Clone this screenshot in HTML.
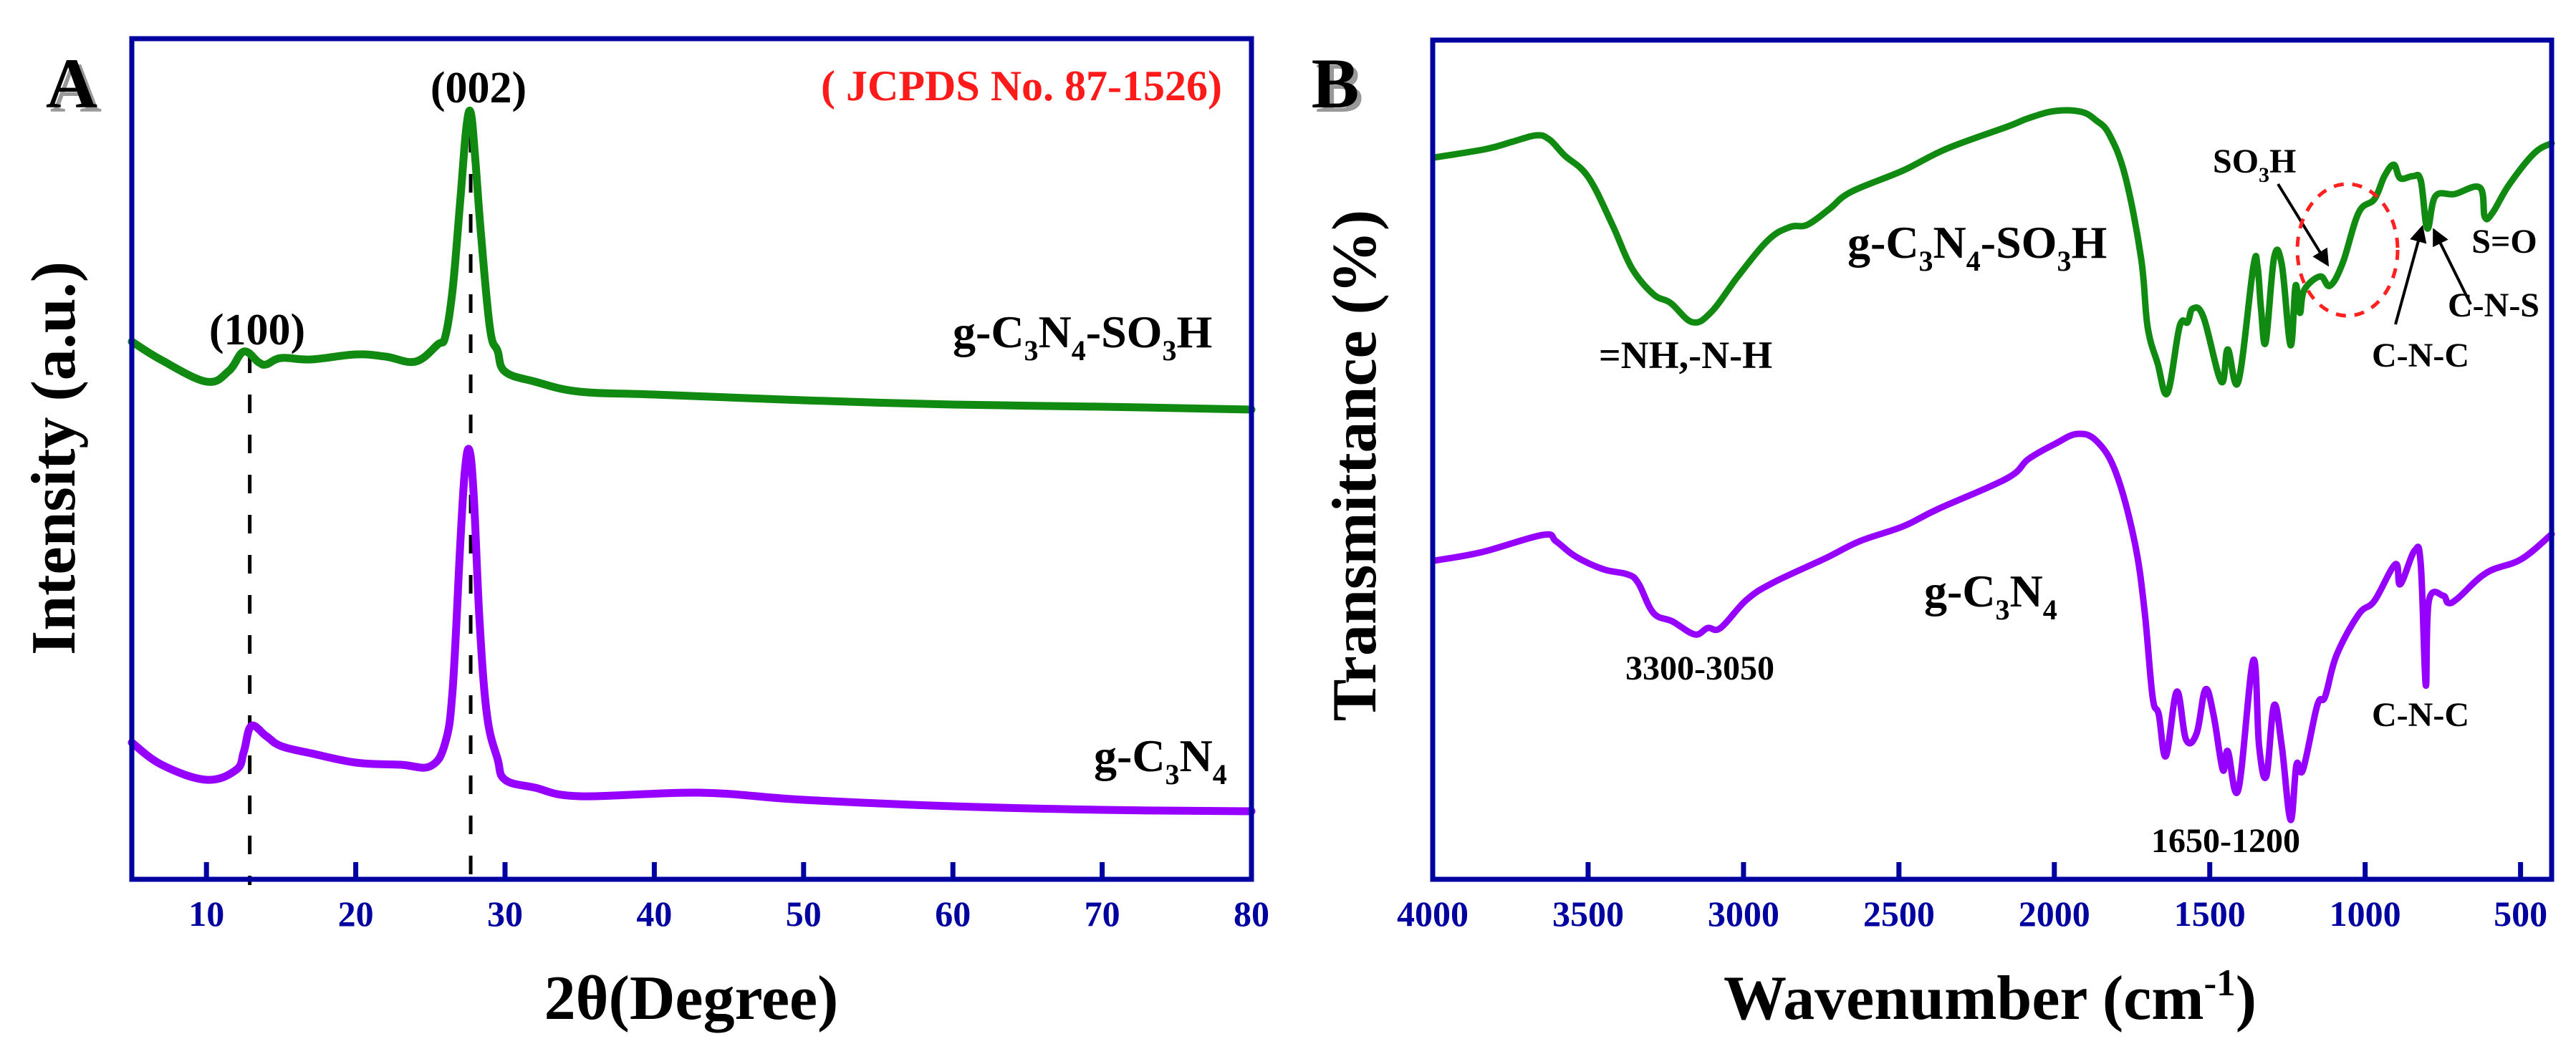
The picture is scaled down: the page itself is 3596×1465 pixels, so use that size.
<!DOCTYPE html>
<html><head><meta charset="utf-8"><title>XRD and FTIR</title>
<style>
html,body{margin:0;padding:0;background:#fff;}
svg{display:block;font-family:"Liberation Serif",serif;}
</style></head>
<body>
<svg id="fig" width="3596" height="1465" viewBox="0 0 3596 1465" xmlns="http://www.w3.org/2000/svg">
  <g id="panelA"></g>
  <g id="panelB"></g>
</svg>
<script>
// ---------- Panel A data (XRD) ----------
const xrdGreenX = [5,7,10,11.5,12.5,13.5,14,15,17,20,22,24,25.5,26,26.5,27,27.4,27.7,28,28.4,29,29.5,30,32,35,40,50,60,70,80];
const xrdGreenI = [751,725,695,710,737,722,719,728,726,733,730,723,747,758,826,948,1048,1071,1008,898,768,738,709,695,681,677,669,663,660,656];
const xrdPurpleX = [5,7,10,12,12.5,13,14,15,17,20,23,25,26,26.5,27,27.3,27.6,27.9,28.3,28.8,29.5,30,32,35,43,50,60,70,80];
const xrdPurpleI = [191,160,139,153,178,214,200,186,176,163,160,158,191,268,468,568,600,538,358,228,168,139,128,116,121,111,102,97,95];
const xrdTicks = [10,20,30,40,50,60,70,80];
const xrdRefLines = [12.9,27.7];

// ---------- Panel B data (FTIR) ----------
const ftirGreenW = [3995,3827,3744,3666,3624,3576,3500,3422,3360,3290,3235,3164,3102,3018,2920,2850,2795,2724,2654,2486,2348,2152,2083,1998,1915,1866,1823,1772,1721,1700,1668,1636,1597,1571,1555,1520,1463,1442,1408,1360,1346,1335,1320,1293,1268,1240,1224,1210,1196,1145,1113,1072,1021,970,938,908,887,846,821,800,774,712,631,615,590,537,456,400];
const ftirGreenT = [1008,1020,1030,1039,1033,1011,981,914,854,817,805,778,793,842,893,911,914,936,960,990,1020,1051,1063,1073,1072,1060,1040,982,868,772,721,679,772,778,797,785,695,740,695,855,855,797,750,868,858,746,829,791,823,842,829,861,931,950,982,998,979,982,976,909,954,957,966,925,931,970,1014,1028];
const ftirPurpleW = [3995,3841,3645,3603,3541,3451,3374,3339,3290,3228,3157,3115,3074,2991,2906,2738,2627,2486,2375,2152,2083,1998,1926,1864,1802,1742,1710,1684,1664,1641,1606,1576,1542,1514,1488,1458,1442,1408,1360,1341,1318,1293,1268,1240,1221,1200,1154,1129,1092,1021,970,903,887,841,821,805,795,749,733,703,610,498,400];
const ftirPurpleT = [445,457,481,472,451,433,426,414,372,360,342,351,351,390,414,448,472,493,517,560,587,608,622,612,568,472,376,255,230,172,262,195,204,265,230,153,179,125,306,185,144,243,185,83,160,153,243,255,313,370,389,440,412,459,440,271,389,396,386,392,428,447,482];
const ftirTicks = [4000,3500,3000,2500,2000,1500,1000,500];

const NS = "http://www.w3.org/2000/svg";
const AXIS = "#0000a0", GREEN = "#108a10", PURPLE = "#9600ff";

function mk(tag, attrs, parent){
  const e = document.createElementNS(NS, tag);
  for (const k in attrs) e.setAttribute(k, attrs[k]);
  parent.appendChild(e);
  return e;
}

const A = {l:184, r:1747, t:54, b:1228};
const xA = v => A.l + (v-5)/(80-5)*(A.r-A.l);
const yA = v => A.b - v/1174*(A.b-A.t);
const B = {l:2000, r:3562, t:56, b:1228};
const xB = w => B.l + (4000-w)/(4000-400)*(B.r-B.l);
const yB = v => B.b - v/1172*(B.b-B.t);

// Catmull-Rom smoothed path
function pathFrom(xs, ys, fx, fy){
  const P = xs.map((x,i)=>[fx(x), fy(ys[i])]);
  let d = "M"+P[0][0].toFixed(1)+","+P[0][1].toFixed(1);
  for (let i=0;i<P.length-1;i++){
    const p0=P[Math.max(i-1,0)], p1=P[i], p2=P[i+1], p3=P[Math.min(i+2,P.length-1)];
    const t=0.18;
    const c1=[p1[0]+(p2[0]-p0[0])*t, p1[1]+(p2[1]-p0[1])*t];
    const c2=[p2[0]-(p3[0]-p1[0])*t, p2[1]-(p3[1]-p1[1])*t];
    d += " C"+c1[0].toFixed(1)+","+c1[1].toFixed(1)+" "+c2[0].toFixed(1)+","+c2[1].toFixed(1)+" "+p2[0].toFixed(1)+","+p2[1].toFixed(1);
  }
  return d;
}

// parts: [text, dy, scale]
function label(parent, x, y, size, parts, opts){
  opts = opts || {};
  const t = mk("text", {x:x, y:y, "font-size":size, "font-weight":"bold", fill:opts.fill||"#000", "text-anchor":opts.anchor||"start"}, parent);
  parts.forEach(p=>{
    const s = document.createElementNS(NS,"tspan");
    s.textContent = p[0];
    if (p[2]) s.setAttribute("font-size", Math.round(size*p[2]));
    if (p[1]) s.setAttribute("dy", Math.round(size*p[1]));
    t.appendChild(s);
  });
  return t;
}
const SUB = 0.28;
function formula(withSO3H){
  const a = [["g-C"],["3",SUB,0.62],["N",-SUB],["4",SUB,0.62]];
  if (withSO3H) a.push(["-SO",-SUB],["3",SUB,0.62],["H",-SUB]);
  return a;
}

// ================= PANEL A =================
const pA = document.getElementById("panelA");
xrdRefLines.forEach((v,i)=>{
  const top = i===0 ? 495 : 187;
  const ln = mk("line",{x1:xA(v),x2:xA(v),y1:top,y2:A.b+8,stroke:"#000","stroke-width":5,"stroke-dasharray":"26 30"},pA);
  
  
});
const gA = mk("path",{d:pathFrom(xrdGreenX,xrdGreenI,xA,yA),fill:"none",stroke:GREEN,"stroke-width":11,"stroke-linejoin":"round","stroke-linecap":"round"},pA);


const pAp = mk("path",{d:pathFrom(xrdPurpleX,xrdPurpleI,xA,yA),fill:"none",stroke:PURPLE,"stroke-width":11,"stroke-linejoin":"round","stroke-linecap":"round"},pA);


const boxA = mk("rect",{x:A.l,y:A.t,width:A.r-A.l,height:A.b-A.t,fill:"none",stroke:AXIS,"stroke-width":7},pA);


xrdTicks.forEach(v=>{
  const tk = mk("line",{x1:xA(v),x2:xA(v),y1:A.b,y2:A.b-24,stroke:AXIS,"stroke-width":7},pA);
  
  
  const tl = mk("text",{x:xA(v),y:1293,"font-size":50,"font-weight":"bold",fill:AXIS,"text-anchor":"middle"},pA);
  tl.textContent = v;
  
  
});
</script>
<script>
(function(){
const pA = document.getElementById("panelA");
let t;
t = mk("text",{x:965,y:1423,"font-size":88,"font-weight":"bold","text-anchor":"middle"},pA); t.textContent="2θ(Degree)";
 
t = mk("text",{x:0,y:0,"font-size":88,"font-weight":"bold","text-anchor":"middle",transform:"translate(104,640) rotate(-90)"},pA); t.textContent="Intensity (a.u.)";
 
t = mk("text",{x:106,y:156,"font-size":100,"font-weight":"bold","text-anchor":"middle",fill:"#999"},pA); t.textContent="A";
 
t = mk("text",{x:100,y:150,"font-size":100,"font-weight":"bold","text-anchor":"middle"},pA); t.textContent="A";
 
t = mk("text",{x:668,y:143,"font-size":62,"font-weight":"bold","text-anchor":"middle"},pA); t.textContent="(002)";
 
t = mk("text",{x:359,y:481,"font-size":62,"font-weight":"bold","text-anchor":"middle"},pA); t.textContent="(100)";
 
t = mk("text",{x:1706,y:140,"font-size":60,"font-weight":"bold","text-anchor":"end",fill:"#ff1a1a"},pA); t.textContent="( JCPDS No. 87-1526)";
 
t = label(pA,1330,485,64,formula(true));
 
t = label(pA,1527,1077,64,formula(false));
 

// ================= PANEL B =================
const pB = document.getElementById("panelB");
const gB = mk("path",{d:pathFrom(ftirGreenW,ftirGreenT,xB,yB),fill:"none",stroke:GREEN,"stroke-width":9,"stroke-linejoin":"round","stroke-linecap":"round"},pB);
 
const pBp = mk("path",{d:pathFrom(ftirPurpleW,ftirPurpleT,xB,yB),fill:"none",stroke:PURPLE,"stroke-width":9,"stroke-linejoin":"round","stroke-linecap":"round"},pB);
 
const boxB = mk("rect",{x:B.l,y:B.t,width:B.r-B.l,height:B.b-B.t,fill:"none",stroke:AXIS,"stroke-width":7},pB);
 
ftirTicks.forEach(v=>{
  const tk = mk("line",{x1:xB(v),x2:xB(v),y1:B.b,y2:B.b-24,stroke:AXIS,"stroke-width":7},pB);
  
  
  const tl = mk("text",{x:xB(v),y:1293,"font-size":50,"font-weight":"bold",fill:AXIS,"text-anchor":"middle"},pB);
  tl.textContent = v;
  
  
});
t = label(pB,2778,1423,88,[["Wavenumber (cm"],["-1",-0.38,0.6],[")",0.38]],{anchor:"middle"});
 
t = mk("text",{x:0,y:0,"font-size":88,"font-weight":"bold","text-anchor":"middle",transform:"translate(1920,650) rotate(-90)"},pB); t.textContent="Transmittance (%)";
 
t = mk("text",{x:1870,y:156,"font-size":100,"font-weight":"bold","text-anchor":"middle",fill:"#999"},pB); t.textContent="B";
 
t = mk("text",{x:1864,y:150,"font-size":100,"font-weight":"bold","text-anchor":"middle"},pB); t.textContent="B";
 
t = label(pB,2579,360,64,formula(true));
 
t = label(pB,2686,847,64,formula(false));
 
const notes = [["=NH,-N-H",2353,514,54,"annot-nh"],["3300-3050",2373,949,48,"annot-3300-3050"],["1650-1200",3107,1190,48,"annot-1650-1200"],["C-N-C",3379,1014,48,"annot-cnc-lower"],["S=O",3496,353,48,"annot-so"],["C-N-S",3481,442,48,"annot-cns"],["C-N-C",3379,512,48,"annot-cnc-upper"]];
notes.forEach(n=>{
  const e = mk("text",{x:n[1],y:n[2],"font-size":n[3],"font-weight":"bold","text-anchor":"middle"},pB);
  e.textContent = n[0];
  
  
});
t = label(pB,3089,241,48,[["SO"],["3",SUB,0.62],["H",-SUB]]);
 
const defs = mk("defs",{},pB);
const mkr = mk("marker",{id:"arr",markerWidth:6,markerHeight:6,refX:5,refY:3,orient:"auto",markerUnits:"strokeWidth"},defs);
mk("path",{d:"M0,0 L6,3 L0,6 z",fill:"#000"},mkr);
[[3180,257,3249,369,"arrow-so3h"],[3344,453,3381,318,"arrow-cnc"],[3449,425,3398,322,"arrow-cns"]].forEach(a=>{
  const l = mk("line",{x1:a[0],y1:a[1],x2:a[2],y2:a[3],stroke:"#000","stroke-width":4,"marker-end":"url(#arr)"},pB);
  
  
});
const el = mk("ellipse",{cx:3277,cy:349,rx:70,ry:92,fill:"none",stroke:"#ff2020","stroke-width":5,"stroke-dasharray":"14 12"},pB);
 
})();
</script>
</body></html>
